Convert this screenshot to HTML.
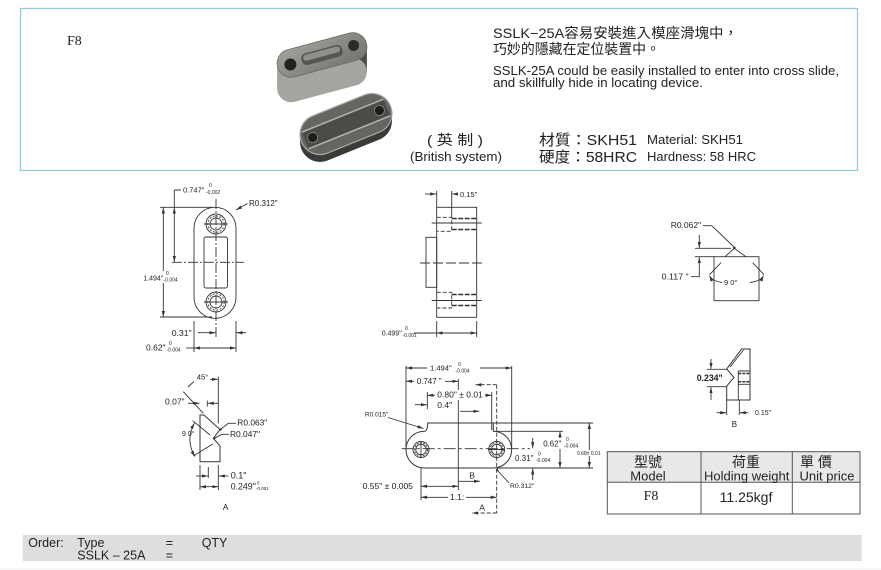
<!DOCTYPE html>
<html><head><meta charset="utf-8">
<style>
html,body{margin:0;padding:0;background:#fff;}
svg{display:block;}
text{font-family:"Liberation Sans","Noto Sans CJK TC",sans-serif;fill:#222;}
.d{fill:#333;}
.l{stroke:#333;stroke-width:0.9;fill:none;}
</style></head><body>
<svg width="881" height="570" viewBox="0 0 881 570" xmlns="http://www.w3.org/2000/svg">
<defs>
<marker id="a" viewBox="0 0 10 10" refX="10" refY="5" markerWidth="6" markerHeight="6" markerUnits="userSpaceOnUse" orient="auto-start-reverse"><path d="M0,2.3 L10,5 L0,7.7 z" fill="#333"/></marker>
<linearGradient id="gf" gradientUnits="userSpaceOnUse" x1="277" y1="0" x2="367" y2="0"><stop offset="0" stop-color="#a4a5a1"/><stop offset="0.5" stop-color="#6d6e6a"/><stop offset="1" stop-color="#4a4b47"/></linearGradient>
<linearGradient id="gt" x1="0" y1="0" x2="1" y2="1"><stop offset="0" stop-color="#a2a39f"/><stop offset="1" stop-color="#72736f"/></linearGradient>
</defs>

<!-- header box -->
<rect x="20.5" y="8.5" width="837" height="162" fill="#fff" stroke="#92cbe0" stroke-width="1.3"/>
<text x="67" y="45" style="font-family:'Liberation Serif',serif;font-size:14px;">F8</text>

<!-- photo: top block -->
<polygon points="277.1,63.3 366.9,46.7 366.9,71.7 277.1,88.3" fill="url(#gf)"/>
<rect x="-46" y="-14" width="92" height="28" rx="14" transform="translate(322,80) rotate(-15)" fill="url(#gf)"/>
<g transform="translate(322,55) rotate(-15)">
<rect x="-46" y="-14" width="92" height="28" rx="14" fill="url(#gt)" stroke="#6a6b67" stroke-width="0.8"/>
<circle cx="-33" cy="1" r="6" fill="#222"/>
<circle cx="33" cy="-1" r="5.5" fill="#2a2a28"/>
<rect x="-21" y="-6" width="42" height="12" rx="5" fill="#555652"/>
<rect x="-19" y="-4.5" width="38" height="6" rx="3" fill="#8f908c"/>
</g>
<!-- photo: bottom block -->
<polygon points="300,134.5 392,113.5 392,121 300,142" fill="#3a3b38"/>
<rect x="-48" y="-20" width="96" height="40" rx="20" transform="translate(346,131.5) rotate(-22)" fill="#3a3b38"/>
<g transform="translate(346,124) rotate(-22)">
<rect x="-48" y="-20" width="96" height="40" rx="20" fill="#656662" stroke="#a8a9a5" stroke-width="1.2"/>
<rect x="-44" y="-9" width="88" height="18" fill="#4b4c48"/>
<line x1="-44" y1="-9" x2="44" y2="-9" stroke="#b5b6b2" stroke-width="1.5"/>
<line x1="-44" y1="9" x2="44" y2="9" stroke="#b5b6b2" stroke-width="1.5"/>
<circle cx="-36" cy="0" r="5" fill="#1d1d1b" stroke="#888" stroke-width="0.8"/>
<circle cx="36" cy="0" r="5" fill="#1d1d1b" stroke="#888" stroke-width="0.8"/>
</g>

<!-- header texts -->
<text x="493" y="38" style="font-size:14px;" textLength="245" lengthAdjust="spacingAndGlyphs">SSLK−25A容易安裝進入模座滑塊中，</text>
<text x="493" y="54" style="font-size:14px;" textLength="167" lengthAdjust="spacingAndGlyphs">巧妙的隱藏在定位裝置中。</text>
<text x="493" y="75" style="font-size:12.5px;" textLength="346" lengthAdjust="spacingAndGlyphs">SSLK-25A could be easily installed to enter into cross slide,</text>
<text x="493" y="87" style="font-size:12.5px;" textLength="210" lengthAdjust="spacingAndGlyphs">and skillfully hide in locating device.</text>
<text x="427" y="145" style="font-size:14px;" textLength="56" lengthAdjust="spacingAndGlyphs">( 英 制 )</text>
<text x="410" y="161" style="font-size:12.5px;" textLength="92" lengthAdjust="spacingAndGlyphs">(British system)</text>
<text x="539" y="145" style="font-size:15px;" textLength="98" lengthAdjust="spacingAndGlyphs">材質：SKH51</text>
<text x="539" y="162" style="font-size:15px;" textLength="98" lengthAdjust="spacingAndGlyphs">硬度：58HRC</text>
<text x="647" y="144" style="font-size:13px;" textLength="96" lengthAdjust="spacingAndGlyphs">Material: SKH51</text>
<text x="647" y="161" style="font-size:13px;" textLength="109" lengthAdjust="spacingAndGlyphs">Hardness: 58 HRC</text>

<!-- ===== Drawing 1 ===== -->
<g class="l">
<rect x="194" y="207.3" width="42" height="111" rx="21"/>
<rect x="204" y="237" width="23.5" height="51" rx="2"/>
<circle cx="216" cy="224" r="10"/><circle cx="216" cy="224" r="6"/>
<circle cx="216" cy="224" r="8.2" stroke-dasharray="2 1.5"/>
<circle cx="216" cy="302" r="10"/><circle cx="216" cy="302" r="6"/>
<circle cx="216" cy="302" r="8.2" stroke-dasharray="2 1.5"/>
<path d="M204,224 H228 M204,302 H228"/>
<path d="M216,199 V337 M172,262.3 H244" stroke-dasharray="10 2 2 2"/>
<path d="M160,207.3 H212 M160,317 H212"/>
<path d="M174.3,190 H181 M174.3,190 V207"/>
<path d="M174.3,207.5 V262" marker-start="url(#a)" marker-end="url(#a)"/>
<path d="M163.3,207.5 V317" marker-start="url(#a)" marker-end="url(#a)"/>
<path d="M247.5,203.5 L236,210" marker-end="url(#a)"/>
<path d="M194,321 V352 M236,321 V352"/>
<path d="M198,332.7 H215.5" marker-end="url(#a)"/>
<path d="M246,332.7 H236.5" marker-end="url(#a)"/>
<path d="M186,348 H194"/>
<path d="M194,348 H236" marker-start="url(#a)" marker-end="url(#a)"/>
</g>
<rect x="142" y="271" width="44" height="12" fill="#fff"/>
<g class="d">
<text x="183" y="192.5" style="font-size:7.5px;">0.747"</text>
<text x="209" y="187" style="font-size:5px;">0</text>
<text x="206" y="194" style="font-size:5px;">-0.002</text>
<text x="249" y="206" style="font-size:8px;">R0.312"</text>
<text x="143.3" y="280.5" style="font-size:7px;">1.494"</text>
<text x="166" y="275" style="font-size:5px;">0</text>
<text x="163.5" y="281.5" style="font-size:5px;">-0.004</text>
<text x="171.7" y="336" style="font-size:8.7px;">0.31"</text>
<text x="146" y="350.5" style="font-size:8.5px;">0.62"</text>
<text x="169" y="345" style="font-size:5px;">0</text>
<text x="166.5" y="351.5" style="font-size:5px;">-0.004</text>
</g>

<!-- ===== Drawing 2 ===== -->
<g class="l">
<rect x="436.7" y="207.3" width="40" height="110"/>
<rect x="426" y="237.3" width="10.7" height="50"/>
<path d="M436.7,217.3 H451.7 V231.3 H436.7 M436.7,292.3 H451.7 V308 H436.7" stroke-dasharray="4 2"/>
<path d="M451.7,218.5 H476.7 M451.7,229.5 H476.7 M451.7,294.5 H476.7 M451.7,305.5 H476.7" stroke-dasharray="5 1.5" stroke-width="1.6"/>
<path d="M431.7,223 H481.7 M431.7,300.5 H481.7"/>
<path d="M420,263 H482" stroke-dasharray="10 3"/>
<path d="M436.7,191 V207 M451.7,191 V217"/>
<path d="M425,194 H436.2" marker-end="url(#a)"/>
<path d="M458,194 H452.2" marker-end="url(#a)"/>
<path d="M436.7,321 V337 M476.7,321 V337"/>
<path d="M414,333 H436.7"/>
<path d="M436.7,333 H476.7" marker-start="url(#a)" marker-end="url(#a)"/>
</g>
<g class="d">
<text x="460" y="197" style="font-size:7.5px;">0.15"</text>
<text x="381.7" y="335.5" style="font-size:7px;">0.499"</text>
<text x="405" y="330" style="font-size:5px;">0</text>
<text x="402.5" y="337" style="font-size:5px;">-0.001</text>
</g>

<!-- ===== Drawing 3 ===== -->
<g class="l">
<rect x="714" y="256.7" width="45" height="44"/>
<path d="M725,256.7 L734.3,248.3 L746,256.7"/>
<path d="M703,225.7 H711.7 L733.5,246.5"/>
<path d="M695,248.3 H731 M695,256.7 H714"/>
<path d="M699.3,235 V248" marker-end="url(#a)"/>
<path d="M699.3,271.7 V257.2" marker-end="url(#a)"/>
<path d="M699.3,271.7 V276.7 H691"/>
<path d="M721,262.7 L709.5,274.7 M752.7,262.7 L764,274.7"/>
<path d="M722,282.5 Q712,281 709.5,275.5" marker-end="url(#a)"/>
<path d="M750,282.5 Q761,281 763.5,275.5" marker-end="url(#a)"/>
</g>
<circle cx="734.3" cy="247.8" r="1.3" fill="#333"/>
<g class="d">
<text x="670.7" y="228" style="font-size:8.5px;">R0.062"</text>
<text x="661.7" y="279.7" style="font-size:8.5px;" textLength="27" lengthAdjust="spacingAndGlyphs">0.117 "</text>
<text x="724" y="285" style="font-size:7.5px;">9 0°</text>
</g>

<!-- ===== Drawing 4 (A) ===== -->
<g class="l">
<path d="M200,415 L204,415 L220,429.5 L213.3,438.3 L220,446 L220,461.7 L200,461.7 Z" stroke-width="1"/>
<path d="M192.7,420.7 L210,435 M193.3,456 L212.7,444"/>
<path d="M194.5,423 Q185,440 195,456.5" marker-start="url(#a)" marker-end="url(#a)"/>
<path d="M183.3,391.7 L203.3,413.3 M188,387 L194,381.5"/>
<path d="M218.3,376.7 V423.3"/>
<path d="M210,379.3 H217.8" marker-end="url(#a)"/>
<path d="M188,403.3 H199.5" marker-end="url(#a)"/>
<path d="M207.3,400.5 V406.5"/>
<path d="M218.3,403.3 H207.8" marker-end="url(#a)"/>
<path d="M236,423.3 H228.3 L221,429"/>
<path d="M229,434.3 H221.7 L214.5,438.3"/>
<path d="M200,465 V490 M208.3,467 V478 M218.3,465 V490"/>
<path d="M196,476 H207.8" marker-end="url(#a)"/>
<path d="M228.3,476 H218.8" marker-end="url(#a)"/>
<path d="M200,486.7 H218.3" marker-start="url(#a)" marker-end="url(#a)"/>
</g>
<circle cx="220.5" cy="429.5" r="1.2" fill="#333"/>
<circle cx="214.3" cy="438.3" r="1.2" fill="#333"/>
<g class="d">
<text x="196.7" y="379.5" style="font-size:7.7px;">45°</text>
<text x="165" y="404.5" style="font-size:8.5px;">0.07"</text>
<text x="182" y="436" style="font-size:7px;">9 0°</text>
<text x="237.3" y="425.5" style="font-size:8.4px;">R0.063"</text>
<text x="230" y="437" style="font-size:8.4px;">R0.047"</text>
<text x="230.7" y="478.5" style="font-size:9px;">0.1"</text>
<text x="230.7" y="489.5" style="font-size:8.8px;">0.249"</text>
<text x="257" y="484.5" style="font-size:4.5px;">0</text>
<text x="256" y="490" style="font-size:4.5px;">-0.001</text>
<text x="222.7" y="510" style="font-size:8.5px;">A</text>
</g>

<!-- ===== Drawing 5 ===== -->
<g class="l">
<path d="M424.3,468 A18.3,18.3 0 0 1 424.3,431.3 Q427.7,431 427.7,423 L493.3,423 L493.3,431.3 A18.3,18.3 0 0 1 493.3,468 Z" stroke-width="1"/>
<circle cx="421" cy="449.5" r="8"/><circle cx="421" cy="449.5" r="5.2"/>
<circle cx="421" cy="449.5" r="6.6" stroke-dasharray="2 1.3"/>
<circle cx="496.7" cy="449.5" r="8"/><circle cx="496.7" cy="449.5" r="5.2"/>
<circle cx="496.7" cy="449.5" r="6.6" stroke-dasharray="2 1.3"/>
<path d="M421,441 V458 M488,449.5 H505"/>
<path d="M401.7,448.7 H530" stroke-dasharray="12 3 3 3"/>
<path d="M406,366 V449 M511.7,366 V449"/>
<path d="M421,468 V500"/>
<path d="M458.3,379 V490"/>
<path d="M427.3,392 V409"/>
<path d="M491.7,392 V430"/>
<path d="M496.7,384.7 V513" stroke-dasharray="4 2"/>
<path d="M496.7,384.7 H475.5" stroke-dasharray="4 2" marker-end="url(#a)"/>
<path d="M496.7,513 H472.2" stroke-dasharray="4 2" marker-end="url(#a)"/>
<path d="M406,368 H511.7" marker-start="url(#a)" marker-end="url(#a)"/>
<path d="M406,381.3 H458.3" marker-start="url(#a)" marker-end="url(#a)"/>
<path d="M427.3,395.3 H491.7" marker-start="url(#a)" marker-end="url(#a)"/>
<path d="M415,404.7 H426.8" marker-end="url(#a)"/>
<path d="M460,411.3 H479.3" marker-end="url(#a)"/>
<path d="M388,417.5 L423.5,428.5" marker-end="url(#a)"/>
<path d="M496.7,431.3 H563 M496.7,468 H593 M493.3,423 H593"/>
<path d="M560,431.3 V468" marker-start="url(#a)" marker-end="url(#a)"/>
<path d="M532.7,438 V448.2" marker-end="url(#a)"/>
<path d="M532.7,480 V468.5" marker-end="url(#a)"/>
<path d="M589.3,423 V468" marker-start="url(#a)" marker-end="url(#a)"/>
<path d="M421,486.3 H458.3" marker-start="url(#a)" marker-end="url(#a)"/>
<path d="M421,497.3 H496.7" marker-start="url(#a)" marker-end="url(#a)"/>
<path d="M458.3,481.3 H480" marker-end="url(#a)"/>
<path d="M509,483 L497.5,470.5"/>
</g>
<circle cx="497.3" cy="470" r="1.2" fill="#333"/>
<rect x="427" y="362" width="53" height="12" fill="#fff"/>
<rect x="414" y="376" width="31" height="10" fill="#fff"/>
<rect x="435" y="390" width="50" height="10" fill="#fff"/>
<rect x="542" y="438" width="43" height="11" fill="#fff"/>
<rect x="576" y="450" width="25" height="6" fill="#fff"/>
<rect x="448" y="492" width="18" height="10" fill="#fff"/>
<g class="d">
<text x="430" y="370.5" style="font-size:7.6px;">1.494"</text>
<text x="458" y="366" style="font-size:5px;">0</text>
<text x="455.5" y="372.5" style="font-size:5px;">-0.004</text>
<text x="416.7" y="384" style="font-size:8px;">0.747 "</text>
<text x="437.3" y="397.5" style="font-size:8.5px;">0.80" ± 0.01</text>
<text x="437.3" y="408" style="font-size:8.5px;">0.4"</text>
<text x="365" y="416.5" style="font-size:6.5px;">R0.015"</text>
<text x="543.3" y="446.5" style="font-size:7.8px;">0.62"</text>
<text x="566" y="441" style="font-size:5px;">0</text>
<text x="564" y="447.5" style="font-size:5px;">-0.004</text>
<text x="515" y="461" style="font-size:8px;">0.31"</text>
<text x="538" y="455.5" style="font-size:5px;">0</text>
<text x="536" y="462" style="font-size:5px;">-0.004</text>
<text x="577" y="455" style="font-size:5px;">0.68± 0.01</text>
<text x="362.7" y="489" style="font-size:8.5px;">0.55" ± 0.005</text>
<text x="450" y="500" style="font-size:8.5px;">1.1:</text>
<text x="469.3" y="478.7" style="font-size:8.5px;">B</text>
<text x="479.3" y="510.7" style="font-size:8.5px;">A</text>
<text x="510" y="488" style="font-size:6.8px;">R0.312"</text>
</g>

<!-- ===== Drawing 6 (B) ===== -->
<g class="l">
<path d="M741.7,349 L750,349 L750,400 L726.7,400 L726.7,386 L734,377.5 L726.7,369 Z" stroke-width="1"/>
<path d="M730,367 L743.5,350"/>
<path d="M738.3,371 H750 M738.3,384.3 H750 M738.3,371 V400"/>
<path d="M738.3,373.5 H750 M738.3,381.8 H750" stroke-dasharray="3 1" stroke-width="1.5"/>
<path d="M706.7,369.3 H726.7 M706.7,386.7 H727"/>
<path d="M711,359 V368.8" marker-end="url(#a)"/>
<path d="M711,400 V387.2" marker-end="url(#a)"/>
<path d="M726.7,400 V415 M739.3,400 V415"/>
<path d="M716.7,412.7 H726.2" marker-end="url(#a)"/>
<path d="M748.3,412.7 H739.8" marker-end="url(#a)"/>
</g>
<g class="d">
<text x="696.7" y="381" style="font-size:9px;font-weight:bold;" textLength="26" lengthAdjust="spacingAndGlyphs">0.234"</text>
<text x="755" y="415" style="font-size:7px;">0.15"</text>
<text x="731.7" y="427" style="font-size:8px;">B</text>
</g>

<!-- ===== Table ===== -->
<rect x="607.3" y="451.7" width="252.7" height="30.6" fill="#e8e8e6"/>
<g stroke="#555" stroke-width="1" fill="none">
<rect x="607.3" y="451.7" width="252.7" height="62.3"/>
<line x1="607.3" y1="482.3" x2="860" y2="482.3"/>
<line x1="701" y1="451.7" x2="701" y2="514"/>
<line x1="792.3" y1="451.7" x2="792.3" y2="514"/>
</g>
<text x="648" y="467" text-anchor="middle" style="font-size:14px;">型號</text>
<text x="648" y="480.5" text-anchor="middle" style="font-size:13px;">Model</text>
<text x="746" y="467" text-anchor="middle" style="font-size:14px;">荷重</text>
<text x="746.7" y="480.5" text-anchor="middle" style="font-size:13px;">Holding weight</text>
<text x="800" y="467" style="font-size:14px;">單 價</text>
<text x="827" y="480.5" text-anchor="middle" style="font-size:13px;">Unit price</text>
<text x="651" y="500" text-anchor="middle" style="font-family:'Liberation Serif',serif;font-size:14px;">F8</text>
<text x="746" y="502" text-anchor="middle" style="font-size:14px;">11.25kgf</text>

<!-- ===== Footer ===== -->
<rect x="22.7" y="535" width="839" height="26" fill="#dededc"/>
<line x1="0" y1="569" x2="881" y2="569" stroke="#eeeeee" stroke-width="1"/>
<text x="28.3" y="547" style="font-size:12.5px;">Order:</text>
<text x="77.3" y="547" style="font-size:12.5px;">Type</text>
<text x="165.7" y="547" style="font-size:12.5px;">=</text>
<text x="201.7" y="547" style="font-size:12.5px;">QTY</text>
<text x="77.3" y="559.5" style="font-size:12.5px;">SSLK – 25A</text>
<text x="165.7" y="559.5" style="font-size:12.5px;">=</text>
</svg>
</body></html>
